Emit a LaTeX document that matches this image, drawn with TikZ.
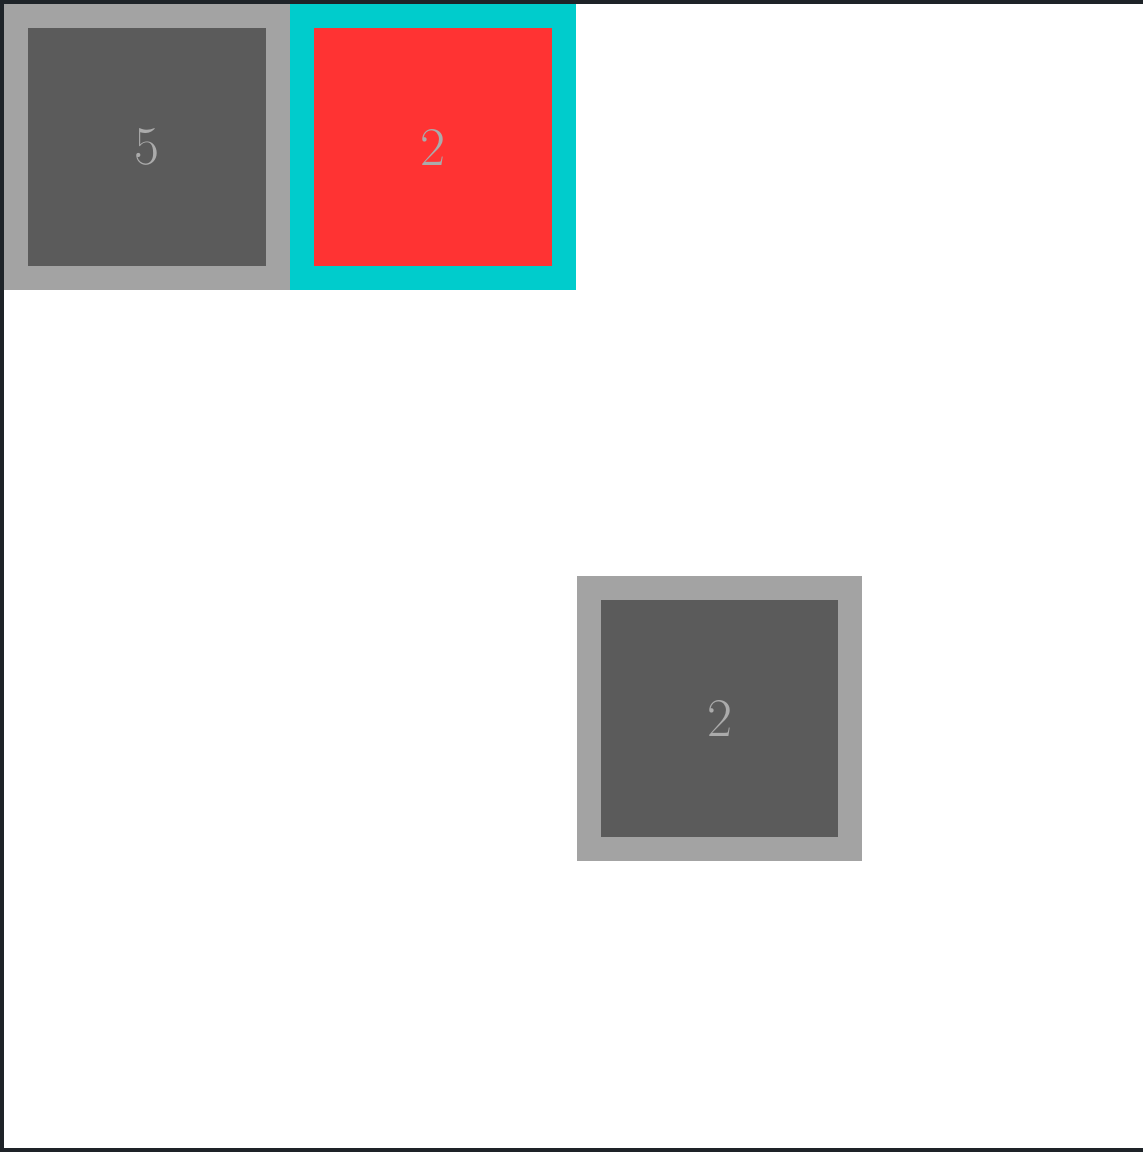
\documentclass[tikz,border=0pt]{standalone}
\usepackage{xcolor}
\usepackage{tikz}
\definecolor{tileedge}{HTML}{A3A3A3}
\definecolor{tilefill}{HTML}{5B5B5B}
\definecolor{pickedge}{HTML}{00CCCC}
\definecolor{pickfill}{HTML}{FF3333}
\definecolor{digit}{HTML}{ABABAB}
\definecolor{frame}{HTML}{1E2328}
\tikzset{
  tile/.style  ={draw=tileedge,fill=tilefill,line width=0.48cm,minimum size=5.24cm,
                 inner sep=0pt,outer sep=0pt,text=digit,font=\fontsize{31}{31}\selectfont},
  picked/.style={tile,draw=pickedge,fill=pickfill},
}
\begin{document}
\begin{tikzpicture}[x=0.02cm,y=-0.02cm]
  \useasboundingbox (0,0) rectangle (1143,1152);
  \fill[frame] (0,0) rectangle (1143,1152);
  \fill[white] (4,4) rectangle (1143,1148);
  \node[tile]   (t1) at (147,147)     {5};
  \node[picked] (t2) at (433,147)     {2};
  \node[tile]   (t3) at (719.5,718.5) {2};
\end{tikzpicture}
\end{document}
